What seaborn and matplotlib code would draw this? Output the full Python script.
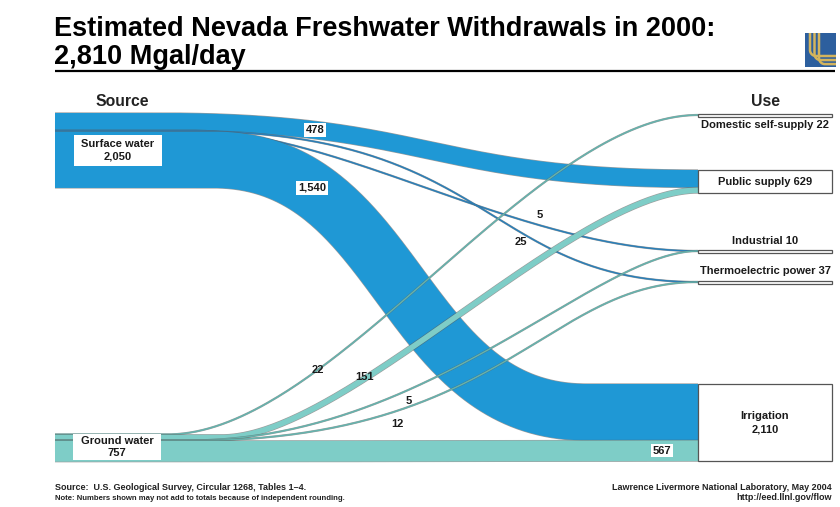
import numpy as np
import pandas as pd
import matplotlib
matplotlib.use('Agg')
import matplotlib.pyplot as plt
import matplotlib.patheffects as pe
from matplotlib.patches import Rectangle
import seaborn as sns

# ---------------- data (Mgal/day) ----------------
sources = ['Surface water', 'Ground water']
source_totals = [2050, 757]
uses = ['Domestic self-supply', 'Public supply', 'Industrial',
        'Thermoelectric power', 'Irrigation']
use_totals = [22, 629, 10, 37, 2110]
surface_to_use = [0, 478, 5, 25, 1540]
ground_to_use = [22, 151, 5, 12, 567]
grand_total = 2810

# ---------------- style ----------------
sns.set_theme(style='white')
plt.rcParams['font.family'] = ['Liberation Sans', 'DejaVu Sans']

BLUE = '#1f98d5'
TEAL = '#7ecdc7'
BLUE_LINE = '#2a7fb8'
TEAL_LINE = '#64b3ad'
EDGE = '#5a5a5a'

DPI = 100
fig = plt.figure(figsize=(8.4, 5.07), dpi=DPI)
ax = fig.add_axes([0, 0, 1, 1])

# layout (pixels)
SCALE = 75 / 2050          # px per Mgal/day
X_SRC, X_USE, X_USE_R = 55, 698, 832
src_top = [113, 434]
use_top = [113.5, 170, 249.5, 280.5, 384]
PT = 72 / DPI

# curve shape per flow: (x start, x end, handle1, handle2) -- layout only
shape = {
    (0, 1): (160, 698, 0.50, 0.50),
    (0, 2): (190, 698, 0.30, 0.35),
    (0, 3): (190, 698, 0.60, 0.42),
    (0, 4): (214, 586, 0.50, 0.50),
    (1, 0): (168, 698, 0.31, 0.31),
    (1, 1): (222, 698, 0.26, 0.26),
    (1, 2): (190, 698, 0.47, 0.20),
    (1, 3): (190, 698, 0.62, 0.30),
    (1, 4): (190, 698, 0.50, 0.50),
}


def flow_path(y0, y1, xa, xb, r1, r2, n=160):
    t = np.linspace(0, 1, n)
    L = xb - xa
    px = [xa, xa + r1 * L, xb - r2 * L, xb]
    py = [y0, y0, y1, y1]
    b = [(1 - t) ** 3, 3 * (1 - t) ** 2 * t, 3 * (1 - t) * t ** 2, t ** 3]
    x = sum(bi * p for bi, p in zip(b, px))
    y = sum(bi * p for bi, p in zip(b, py))
    x = np.concatenate([[X_SRC], x, [X_USE]])
    y = np.concatenate([[y0], y, [y1]])
    return x, y


flows = [surface_to_use, ground_to_use]

# stack flows at both ends (surface first at each use node)
use_fill = [0.0] * len(uses)
paths = {}
for s, row in enumerate(flows):
    cursor = src_top[s]
    for u, v in enumerate(row):
        if v == 0:
            continue
        w = v * SCALE
        y0 = cursor + w / 2
        cursor += w
        if use_totals[u] * SCALE < 3:
            y1 = use_top[u] + 1.5
        else:
            y1 = use_top[u] + use_fill[u] + w / 2
            use_fill[u] += w
        paths[(s, u)] = (flow_path(y0, y1, *shape[(s, u)]), w)

# surface water first, ground water drawn over it
for s in (0, 1):
    for u in range(len(uses)):
        if (s, u) not in paths:
            continue
        (x, y), w = paths[(s, u)]
        if w < 3:
            col = BLUE_LINE if s == 0 else TEAL_LINE
            lw = 1.5 * PT
            edge_lw = lw + 0.5
        else:
            col = BLUE if s == 0 else TEAL
            lw = w * PT
            edge_lw = lw + 0.9
        sns.lineplot(x=x, y=y, sort=False, estimator=None, ax=ax, color=col,
                     linewidth=lw, solid_capstyle='butt', zorder=2 + s,
                     path_effects=[pe.Stroke(linewidth=edge_lw, foreground=EDGE,
                                             alpha=0.6),
                                   pe.Normal()])

ax.set_xlim(0, 840)
ax.set_ylim(507, 0)
ax.axis('off')

# ---------------- use nodes ----------------
for u, name in enumerate(uses):
    h = max(use_totals[u] * SCALE, 3)
    ax.add_patch(Rectangle((X_USE, use_top[u]), X_USE_R - X_USE, h,
                           facecolor='white', edgecolor='#555555', lw=0.9,
                           zorder=5))

xc = (X_USE + X_USE_R) / 2
lab_kw = dict(ha='center', va='center', fontsize=8, fontweight='bold',
              color='#1a1a1a', zorder=6)
ax.text(xc, use_top[0] + 11, f'{uses[0]} {use_totals[0]}', **lab_kw)
ax.text(xc, use_top[1] + use_totals[1] * SCALE / 2,
        f'{uses[1]} {use_totals[1]}', **lab_kw)
ax.text(xc, use_top[2] - 8, f'{uses[2]} {use_totals[2]}', **lab_kw)
ax.text(xc, use_top[3] - 9, f'{uses[3]} {use_totals[3]}', **lab_kw)
ax.text(xc, use_top[4] + use_totals[4] * SCALE / 2,
        f'{uses[4]}\n{use_totals[4]:,}', linespacing=1.5, **lab_kw)

# ---------------- source labels ----------------
boxes = [(74, 135, 88, 31), (73, 434, 88, 26)]
for s, name in enumerate(sources):
    bx, by, bw, bh = boxes[s]
    ax.add_patch(Rectangle((bx, by), bw, bh, facecolor='white',
                           edgecolor='none', zorder=5))
    ax.text(bx + bw / 2, by + bh / 2, f'{name}\n{source_totals[s]:,}',
            linespacing=1.3, **lab_kw)


# ---------------- flow value labels ----------------
def curve_y(key, xq):
    (x, y), _ = paths[key]
    return np.interp(xq, x, y)


labels = [  # key, x on curve, dx, dy, boxed
    ((0, 1), 315, 0, 0, True),
    ((0, 4), 312, 0, -2, True),
    ((0, 2), 540, 0, -10, False),
    ((0, 3), 521, 0, 9, False),
    ((1, 0), 330, -12, 9, False),
    ((1, 1), 378, -13, 7, False),
    ((1, 2), 420, -11, 16, False),
    ((1, 3), 408, -11, 17, False),
    ((1, 4), 662, 0, 0, True),
]
for key, xq, dx, dy, boxed in labels:
    s, u = key
    v = flows[s][u]
    kw = dict(ha='center', va='center', fontsize=8, fontweight='bold',
              color='#1a1a1a', zorder=7)
    if boxed:
        kw['bbox'] = dict(boxstyle='square,pad=0.15', facecolor='white',
                          edgecolor='none')
    ax.text(xq + dx, curve_y(key, xq) + dy, f'{v:,}', **kw)

# ---------------- headers, title, footer ----------------
ax.text(122, 101, 'Source', ha='center', va='center', fontsize=11.3,
        fontweight='bold', color='#222222')
ax.text(765, 101, 'Use', ha='center', va='center', fontsize=11.3,
        fontweight='bold', color='#222222')

title_kw = dict(ha='left', va='baseline', fontsize=22, fontweight='bold',
                color='black')
t1 = ax.text(54, 36, 'Estimated Nevada Freshwater Withdrawals in 2000:', **title_kw)
t2 = ax.text(54, 64, f'{grand_total:,} Mgal/day', **title_kw)
fig.canvas.draw()
fs = 22 * 660 / t1.get_window_extent().width
t1.set_fontsize(fs)
t2.set_fontsize(fs)
ax.plot([55, 835], [71, 71], color='black', lw=1.6, solid_capstyle='butt')

# logo
ax.add_patch(Rectangle((805, 33), 31, 34, facecolor='#2d5f9e',
                       edgecolor='none', zorder=5))
for off in [0, 4.5, 9]:
    tt = np.linspace(0, np.pi / 2, 20)
    rad = 6
    cx, cy = 810 + off + rad, 50 + off * 0.9
    xx = np.concatenate([[810 + off], cx - rad * np.cos(tt), [836]])
    yy = np.concatenate([[33], cy + rad * np.sin(tt), [cy + rad]])
    ax.plot(xx, yy, color='#d4b45c', lw=1.8, zorder=6, solid_capstyle='butt')

foot_kw = dict(fontweight='bold', color='#222222', va='center')
ax.text(55, 488, 'Source:  U.S. Geological Survey, Circular 1268, Tables 1\u20134.',
        fontsize=6.5, ha='left', **foot_kw)
ax.text(55, 498, 'Note: Numbers shown may not add to totals because of '
        'independent rounding.', fontsize=5.6, ha='left', **foot_kw)
ax.text(832, 488, 'Lawrence Livermore National Laboratory, May 2004',
        fontsize=6.5, ha='right', **foot_kw)
ax.text(832, 498, 'http://eed.llnl.gov/flow', fontsize=6.5, ha='right',
        **foot_kw)

fig.savefig('out.png', dpi=DPI, facecolor='white')
